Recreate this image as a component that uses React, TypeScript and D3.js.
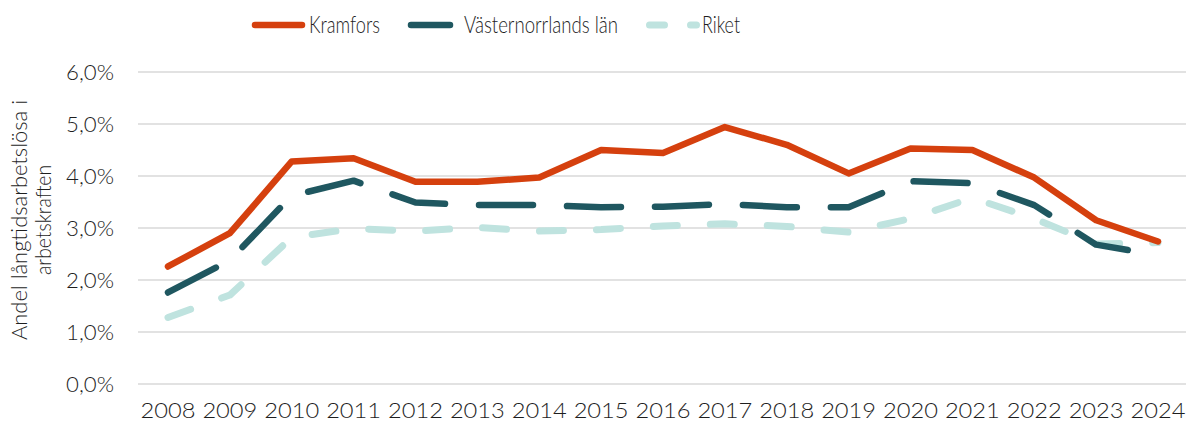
import React from "react";
import * as d3 from "d3";

const years = ["2008","2009","2010","2011","2012","2013","2014","2015","2016","2017","2018","2019","2020","2021","2022","2023","2024"];
const kramfors = [2.26, 2.90, 4.28, 4.34, 3.89, 3.89, 3.97, 4.50, 4.44, 4.94, 4.60, 4.05, 4.53, 4.50, 3.97, 3.15, 2.74];
const vasternorrland = [1.76, 2.38, 3.62, 3.91, 3.49, 3.44, 3.44, 3.40, 3.41, 3.46, 3.40, 3.40, 3.90, 3.86, 3.44, 2.68, 2.48];
const riket = [1.28, 1.71, 2.82, 2.99, 2.94, 3.01, 2.94, 2.97, 3.04, 3.08, 3.03, 2.92, 3.18, 3.58, 3.18, 2.69, 2.72];
const yTicks = [0, 1, 2, 3, 4, 5, 6];
const seriesNames = ["Kramfors", "Västernorrlands län", "Riket"];

const W = 1186, H = 423;
const FONT = "Lato, 'Open Sans', sans-serif";
const TXT = "#1e1e1e";
const FW = 300;

export default function App() {
  const x = d3.scalePoint<string>().domain(years).range([168, 1158]);
  const y = d3.scaleLinear().domain([0, 6]).range([384, 72]);
  const line = d3.line<number>().x((_, i) => x(years[i]) as number).y(d => y(d));

  const series = [
    { name: seriesNames[0], data: kramfors, color: "#D5400E", width: 6.5, dash: undefined as string | undefined },
    { name: seriesNames[1], data: vasternorrland, color: "#1F5760", width: 6.5, dash: "54 34" },
    { name: seriesNames[2], data: riket, color: "#BFE3DF", width: 7, dash: "24 33" },
  ];
  const drawOrder = [series[2], series[1], series[0]];

  return (
    <svg width={W} height={H} style={{ position: "absolute", left: 0, top: 0, display: "block" }}>
      <rect x={0} y={0} width={W} height={H} fill="#fff" />
      {yTicks.map(t => (
        <g key={t}>
          <line x1={138} x2={1186} y1={y(t)} y2={y(t)} stroke="#D9D9D9" strokeWidth={1.5} />
          <text x={114} y={y(t) + 8} textAnchor="end" fontFamily={FONT} fontWeight={FW} fontSize={21} fill={TXT}
            textLength={48} lengthAdjust="spacingAndGlyphs">
            {t.toFixed(1).replace(".", ",") + "%"}
          </text>
        </g>
      ))}
      {years.map(yr => (
        <text key={yr} x={x(yr)} y={418} textAnchor="middle" fontFamily={FONT} fontWeight={FW} fontSize={21} fill={TXT}
          textLength={55} lengthAdjust="spacingAndGlyphs">
          {yr}
        </text>
      ))}
      <text transform="translate(27,220) rotate(-90)" textAnchor="middle" fontFamily={FONT} fontWeight={FW} fontSize={21} fill={TXT}>
        <tspan x={0} dy={0} textLength={240} lengthAdjust="spacingAndGlyphs">Andel långtidsarbetslösa i</tspan>
        <tspan x={0} dy={24} textLength={110} lengthAdjust="spacingAndGlyphs">arbetskraften</tspan>
      </text>
      {drawOrder.map(s => (
        <path key={s.name} d={line(s.data) || ""} fill="none" stroke={s.color} strokeWidth={s.width}
          strokeDasharray={s.dash} strokeLinecap="round" strokeLinejoin="round" />
      ))}
      {/* legend */}
      <g>
        <line x1={255} x2={302} y1={25} y2={25} stroke={series[0].color} strokeWidth={6.5} strokeLinecap="round" />
        <text x={309} y={33} fontFamily={FONT} fontWeight={FW} fontSize={24} fill={TXT}
          textLength={71} lengthAdjust="spacingAndGlyphs">{seriesNames[0]}</text>
        <line x1={411} x2={450} y1={25} y2={25} stroke={series[1].color} strokeWidth={6.5} strokeLinecap="round" />
        <text x={464} y={33} fontFamily={FONT} fontWeight={FW} fontSize={24} fill={TXT}
          textLength={154} lengthAdjust="spacingAndGlyphs">{seriesNames[1]}</text>
        <line x1={649.5} x2={696.5} y1={25} y2={25} stroke={series[2].color} strokeWidth={7} strokeLinecap="round" strokeDasharray="15 26" />
        <text x={702} y={33} fontFamily={FONT} fontWeight={FW} fontSize={24} fill={TXT}
          textLength={38} lengthAdjust="spacingAndGlyphs">{seriesNames[2]}</text>
      </g>
    </svg>
  );
}
